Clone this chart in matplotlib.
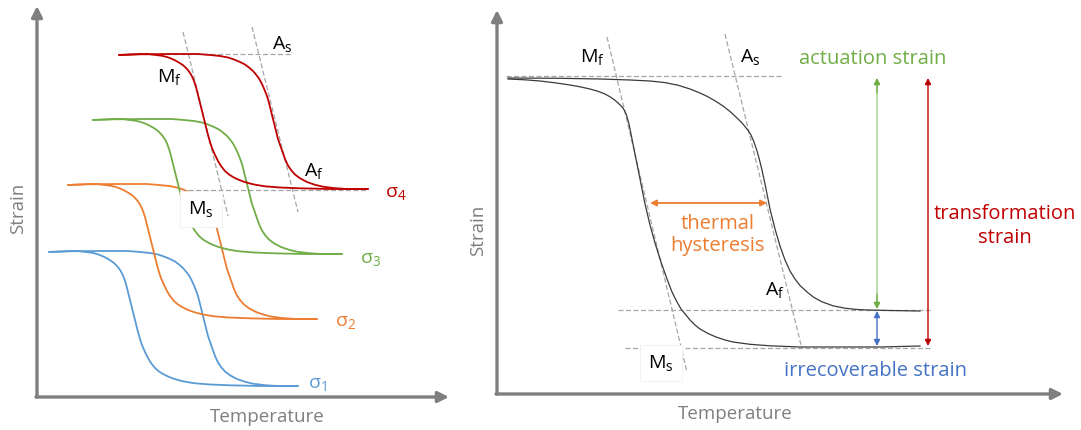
import matplotlib.pyplot as plt
import numpy as np

plt.rcParams['font.family'] = ['Open Sans', 'DejaVu Sans']
plt.rcParams['mathtext.fontset'] = 'custom'
plt.rcParams['mathtext.rm'] = 'Open Sans'

# ---- data (schematic units: temperature ~ px to the right, strain ~ px downward) ----
# base loop (sigma_1); the other loops are the same loop shifted
cool_T = [49, 60, 70, 78, 86, 92, 97, 101, 105, 108, 111, 114, 117, 119, 121, 123, 124.5,
          126, 127, 128, 130.5, 133, 135.5, 138, 140, 142, 145, 148, 151, 155, 159, 163, 168,
          174, 180, 185, 195, 210, 230, 260, 298]
cool_S = [253, 252.5, 252, 252, 253, 253.8, 255, 256.5, 258.3, 260, 261.8, 264, 267, 269.5,
          272.5, 276.5, 280.5, 285, 289, 293, 303, 313, 323, 333, 340, 346, 353, 359, 364, 369,
          372.5, 375, 377.5, 379.8, 381.5, 382.7, 384.3, 385.5, 386.3, 387, 387]
heat_T = [49, 70, 100, 128, 140, 150, 158, 164, 170, 175, 179, 183, 186, 189, 191.5, 194,
          196, 198, 200.5, 203, 205.5, 208, 211.5, 215, 218, 221, 225, 230, 237, 245, 253,
          265, 277, 298]
heat_S = [253, 252.3, 252, 252, 253, 254, 255.5, 257.5, 260, 262.5, 265.5, 269, 272.5, 276.5,
          281, 286.5, 291.5, 297, 307, 317, 327, 337, 347, 357, 363.5, 368, 372.5, 376.3, 380,
          382.8, 384.7, 386.2, 387, 387]

sigma_labels = ['σ$_\\mathregular{1}$', 'σ$_\\mathregular{2}$', 'σ$_\\mathregular{3}$', 'σ$_\\mathregular{4}$']
sigma_dT = [0, 19, 44, 70]
sigma_dS = [0, -67, -132, -197]
sigma_colors = ['#5b9bd5', '#ed7d31', '#70ad47', '#c00000']

# single loop of the right panel
r_cool_T = [508, 525, 540, 555, 570, 580, 590, 598, 605, 610, 614, 617, 620, 622.5, 624.5,
            626.5, 629, 635, 640, 645, 650, 655, 661, 667, 672, 677, 681, 686, 690, 695, 700,
            708, 716, 725, 733, 750, 770, 800, 880, 920]
r_cool_S = [80, 80.8, 82, 83.8, 86, 87.8, 90, 92.3, 95, 97.8, 100.5, 103, 105.8, 108.5, 111.5,
            116, 125, 155, 180, 205, 226, 244, 263, 280, 293, 303, 310, 316, 321, 326, 330,
            334.5, 338, 341, 343, 345.3, 346.8, 348, 348, 347]
r_heat_T = [508, 560, 600, 630, 650, 665, 678, 690, 700, 707, 715, 723, 730, 736, 742, 747,
            751, 754, 757, 759.5, 762, 765, 770, 775, 780, 785, 790, 795, 800, 807, 814, 822,
            833, 845, 856, 867, 890, 920]
r_heat_S = [79, 79.3, 80, 81, 82, 83.6, 86.2, 90, 94, 97.3, 101.8, 107, 112.5, 118, 124, 130,
            136, 143, 152, 161, 171, 185, 210, 230, 247, 261, 272, 280, 286.5, 293, 298.5,
            302.8, 306.8, 309.2, 310.4, 311, 311.5, 312]

fig = plt.figure(figsize=(10.81, 4.31), dpi=100)
ax = fig.add_axes([0, 0, 1, 1])
ax.set_xlim(0, 1081)
ax.set_ylim(431, 0)
ax.axis('off')

axis_col = '#7f7f7f'
dash_col = '#a6a6a6'
label_fs = 14
note_fs = 14.5
title_fs = 13.5


def axis_arrow(x0, y0, x1, y1):
    ax.annotate('', xy=(x1, y1), xytext=(x0, y0),
                arrowprops=dict(arrowstyle='-|>', lw=2.4, color=axis_col,
                                mutation_scale=16, shrinkA=0, shrinkB=0))


def dashed(xs, ys):
    ax.plot(xs, ys, color=dash_col, lw=0.9, ls=(0, (4, 2)), zorder=1)


def double_arrow(x0, y0, x1, y1, col, lw=1.0):
    ax.annotate('', xy=(x1, y1), xytext=(x0, y0),
                arrowprops=dict(arrowstyle='<|-|>', lw=lw, color=col,
                                mutation_scale=9, shrinkA=0, shrinkB=0))


# ---------------- left panel ----------------
axis_arrow(37, 398, 37, 7)
axis_arrow(36, 398, 449, 398)
ax.text(18, 208, 'Strain', rotation=90, ha='center', va='center', color=axis_col, fontsize=title_fs)
ax.text(267, 417, 'Temperature', ha='center', va='center', color=axis_col, fontsize=title_fs)

dashed([120, 290], [55, 55])
dashed([188, 368], [191, 191])
dashed([183, 228], [33, 217])
dashed([252, 298], [28, 213])

lab_gap = [10, 18, 18, 17]
lab_dy = [-2, 3, 5, 4]
for i, (lab, dT, dS, col) in enumerate(zip(sigma_labels, sigma_dT, sigma_dS, sigma_colors)):
    ax.plot(np.array(cool_T) + dT, np.array(cool_S) + dS, color=col, lw=1.3, zorder=2,
            solid_capstyle='round')
    ax.plot(np.array(heat_T) + dT, np.array(heat_S) + dS, color=col, lw=1.3, zorder=2,
            solid_capstyle='round')
    ax.text(cool_T[-1] + dT + lab_gap[i], cool_S[-1] + dS + lab_dy[i], lab, color=col,
            fontsize=label_fs, ha='left', va='center')

ax.text(272, 45, 'A$_\\mathregular{s}$', fontsize=label_fs, ha='left', va='center')
ax.text(157, 78, 'M$_\\mathregular{f}$', fontsize=label_fs, ha='left', va='center')
ax.text(304, 172, 'A$_\\mathregular{f}$', fontsize=label_fs, ha='left', va='center')
ax.text(201, 210, 'M$_\\mathregular{s}$', fontsize=label_fs, ha='center', va='center', zorder=5,
        bbox=dict(boxstyle='square,pad=0.4', fc='white', ec='#f0f0f0', lw=0.6))

# ---------------- right panel ----------------
axis_arrow(497, 395, 497, 11)
axis_arrow(496, 395, 1063, 395)
ax.text(478, 230, 'Strain', rotation=90, ha='center', va='center', color=axis_col, fontsize=title_fs)
ax.text(735, 414, 'Temperature', ha='center', va='center', color=axis_col, fontsize=title_fs)

dashed([506, 782], [77, 77])
dashed([618, 930], [311, 311])
dashed([625, 930], [349, 349])
dashed([607, 687], [38, 373])
dashed([725, 802], [35, 350])

ax.plot(r_cool_T, r_cool_S, color='#3a3a3a', lw=0.9, zorder=2)
ax.plot(r_heat_T, r_heat_S, color='#3a3a3a', lw=0.9, zorder=2)

double_arrow(650, 204, 767, 204, '#ed7d31', lw=1.3)
double_arrow(877, 79, 877, 310, '#a3cf87', lw=1.0)
ax.annotate('', xy=(877, 310), xytext=(877, 295),
            arrowprops=dict(arrowstyle='-|>', lw=1.0, color='#70ad47', mutation_scale=9,
                            shrinkA=0, shrinkB=0))
ax.annotate('', xy=(877, 79), xytext=(877, 94),
            arrowprops=dict(arrowstyle='-|>', lw=1.0, color='#70ad47', mutation_scale=9,
                            shrinkA=0, shrinkB=0))
double_arrow(877, 312, 877, 347, '#4472c4', lw=1.0)
double_arrow(928, 79, 928, 347, '#c00000', lw=1.0)

ax.text(580, 58, 'M$_\\mathregular{f}$', fontsize=label_fs, ha='left', va='center')
ax.text(740, 58, 'A$_\\mathregular{s}$', fontsize=label_fs, ha='left', va='center')
ax.text(765, 291, 'A$_\\mathregular{f}$', fontsize=label_fs, ha='left', va='center')
ax.text(661, 364, 'M$_\\mathregular{s}$', fontsize=label_fs, ha='center', va='center', zorder=5,
        bbox=dict(boxstyle='square,pad=0.4', fc='white', ec='#f0f0f0', lw=0.6))

ax.text(873, 59, 'actuation strain', color='#70ad47', fontsize=note_fs, ha='center', va='center')
ax.text(875, 371, 'irrecoverable strain', color='#4472c4', fontsize=note_fs, ha='center', va='center')
ax.text(718, 235, 'thermal\nhysteresis', color='#ed7d31', fontsize=note_fs, ha='center',
        va='center', linespacing=1.15)
ax.text(1005, 226, 'transformation\nstrain', color='#c00000', fontsize=note_fs, ha='center',
        va='center', linespacing=1.3)

fig.savefig('out.png', dpi=100)
